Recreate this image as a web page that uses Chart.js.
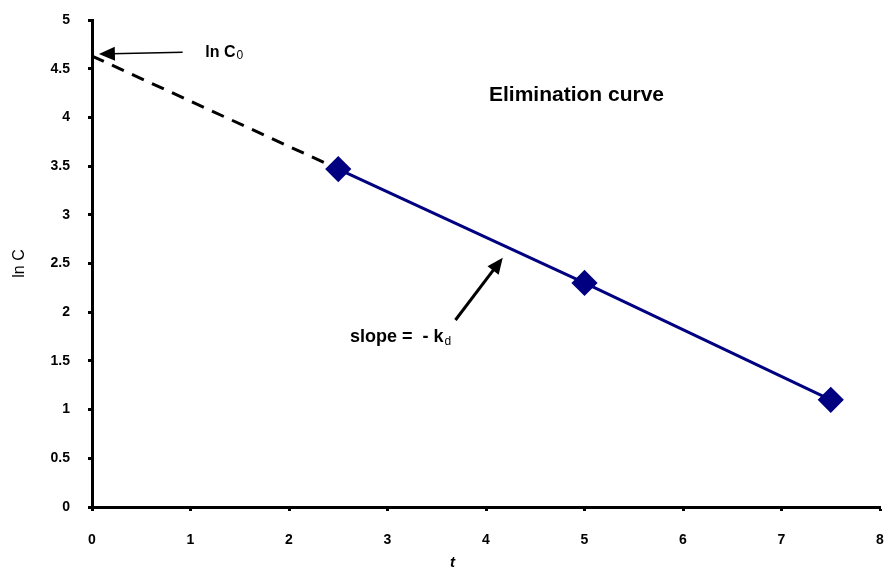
<!DOCTYPE html>
<html>
<head>
<meta charset="utf-8">
<script src="https://cdn.jsdelivr.net/npm/chart.js@4.4.0/dist/chart.umd.min.js"></script>
<style>
  html, body { margin: 0; padding: 0; background: #fff; }
  #wrap { width: 887px; height: 571px; }
</style>
</head>
<body>
<div id="wrap"><canvas id="chart" width="887" height="571"></canvas></div>
<script>
// measured points of the elimination curve
const tValues = [2.5, 5, 7.5];
const lnCValues = [3.47, 2.30, 1.10];

// dashed back-extrapolation to t = 0
const extrapT = [0, 2.5];
const extrapLnC = [4.63, 3.47];

// axis ranges
const xTicks = [0, 1, 2, 3, 4, 5, 6, 7, 8];
const yTicks = [0, 0.5, 1, 1.5, 2, 2.5, 3, 3.5, 4, 4.5, 5];

// annotations (data coordinates)
const arrowFrom = [[0.92, 4.67], [3.69, 1.92]];
const arrowTo = [[0.07, 4.65], [4.17, 2.56]];
const noteText = ['ln C', 'slope =  - k', 'Elimination curve'];
const noteSub = ['0', 'd', ''];
const noteAt = [[1.15, 4.67], [2.62, 1.74], [4.03, 4.23]];

const FONT = '"Liberation Sans", Arial, sans-serif';

// right edge of the plot area (px)
const AREA_RIGHT = 880;

// pin the plot's right edge, chart.js keeps a few px spare there
const pinArea = {
    id: 'pinArea',
    afterLayout(chart) {
        const xs = chart.scales.x;
        chart.chartArea.right = AREA_RIGHT;
        chart.chartArea.width = AREA_RIGHT - chart.chartArea.left;
        xs.right = AREA_RIGHT;
        xs.width = AREA_RIGHT - xs.left;
        xs.configure();
    }
};

const annotations = {
    id: 'annotations',
    afterDatasetsDraw(chart) {
        const ctx = chart.ctx;
        const xs = chart.scales.x, ys = chart.scales.y;
        ctx.save();
        // arrows
        ctx.strokeStyle = '#000';
        ctx.fillStyle = '#000';
        arrowFrom.forEach((from, i) => {
            const x1 = xs.getPixelForValue(from[0]), y1 = ys.getPixelForValue(from[1]);
            const x2 = xs.getPixelForValue(arrowTo[i][0]), y2 = ys.getPixelForValue(arrowTo[i][1]);
            const ang = Math.atan2(y2 - y1, x2 - x1);
            const headLen = 16, headW = 7;
            ctx.lineWidth = i === 0 ? 1.5 : 3;
            ctx.beginPath();
            ctx.moveTo(x1, y1);
            ctx.lineTo(x2 - Math.cos(ang) * headLen * 0.8, y2 - Math.sin(ang) * headLen * 0.8);
            ctx.stroke();
            ctx.beginPath();
            ctx.moveTo(x2, y2);
            ctx.lineTo(x2 - Math.cos(ang) * headLen - Math.sin(ang) * headW,
                       y2 - Math.sin(ang) * headLen + Math.cos(ang) * headW);
            ctx.lineTo(x2 - Math.cos(ang) * headLen + Math.sin(ang) * headW,
                       y2 - Math.sin(ang) * headLen - Math.cos(ang) * headW);
            ctx.closePath();
            ctx.fill();
        });
        // labels with subscripts
        ctx.textBaseline = 'middle';
        ctx.textAlign = 'left';
        const sizes = [16, 18, 21];
        noteText.forEach((txt, i) => {
            const x = xs.getPixelForValue(noteAt[i][0]);
            const y = ys.getPixelForValue(noteAt[i][1]);
            ctx.font = 'bold ' + sizes[i] + 'px ' + FONT;
            ctx.fillText(txt, x, y);
            if (noteSub[i]) {
                const w = ctx.measureText(txt).width;
                ctx.font = '12px ' + FONT;
                ctx.fillText(noteSub[i], x + w + 1, y + 4);
            }
        });
        // x axis title "t"
        ctx.font = 'italic bold 15px ' + FONT;
        ctx.textAlign = 'center';
        ctx.fillText('t', xs.getPixelForValue(3.66), 563);
        ctx.restore();
    }
};

const fmt = v => String(v);

const chart = new Chart(document.getElementById('chart'), {
    type: 'scatter',
    data: {
        datasets: [
            {
                label: 'Elimination curve',
                data: tValues.map((t, i) => ({ x: t, y: lnCValues[i] })),
                showLine: true,
                borderColor: '#000080',
                backgroundColor: '#000080',
                borderWidth: 3,
                pointStyle: 'rectRot',
                pointRadius: 11,
                pointHoverRadius: 11,
                order: 1
            },
            {
                label: 'extrapolation',
                data: extrapT.map((t, i) => ({ x: t, y: extrapLnC[i] })),
                showLine: true,
                borderColor: '#000',
                borderWidth: 3,
                borderDash: [13, 9],
                pointRadius: 0,
                order: 2
            }
        ]
    },
    options: {
        responsive: false,
        animation: false,
        layout: { padding: { top: 20, right: 7, left: 0, bottom: 0 } },
        plugins: {
            legend: { display: false },
            tooltip: { enabled: false }
        },
        scales: {
            x: {
                type: 'linear',
                min: 0,
                max: 8,
                afterBuildTicks: s => { s.ticks = xTicks.map(v => ({ value: v })); },
                afterFit: s => { s.height = 64; s.paddingLeft = 0; s.paddingRight = 0; },
                border: { display: true, color: '#000', width: 3 },
                grid: { drawOnChartArea: false, drawTicks: true, tickLength: 4, tickWidth: 3, tickColor: '#000' },
                ticks: { color: '#000', padding: 21, callback: fmt, font: { family: FONT, size: 14, weight: 'bold' } }
            },
            y: {
                type: 'linear',
                min: 0,
                max: 5,
                afterBuildTicks: s => { s.ticks = yTicks.map(v => ({ value: v })); },
                afterFit: s => { s.width = 92; s.paddingTop = 0; s.paddingBottom = 0; },
                border: { display: true, color: '#000', width: 3 },
                grid: { drawOnChartArea: false, drawTicks: true, tickLength: 4, tickWidth: 3, tickColor: '#000' },
                ticks: { color: '#000', padding: 18, callback: fmt, font: { family: FONT, size: 14, weight: 'bold' } },
                title: { display: true, text: 'ln C', color: '#000', padding: { top: 10, bottom: 0 }, font: { family: FONT, size: 16 } }
            }
        }
    },
    plugins: [pinArea, annotations]
});
</script>
</body>
</html>
